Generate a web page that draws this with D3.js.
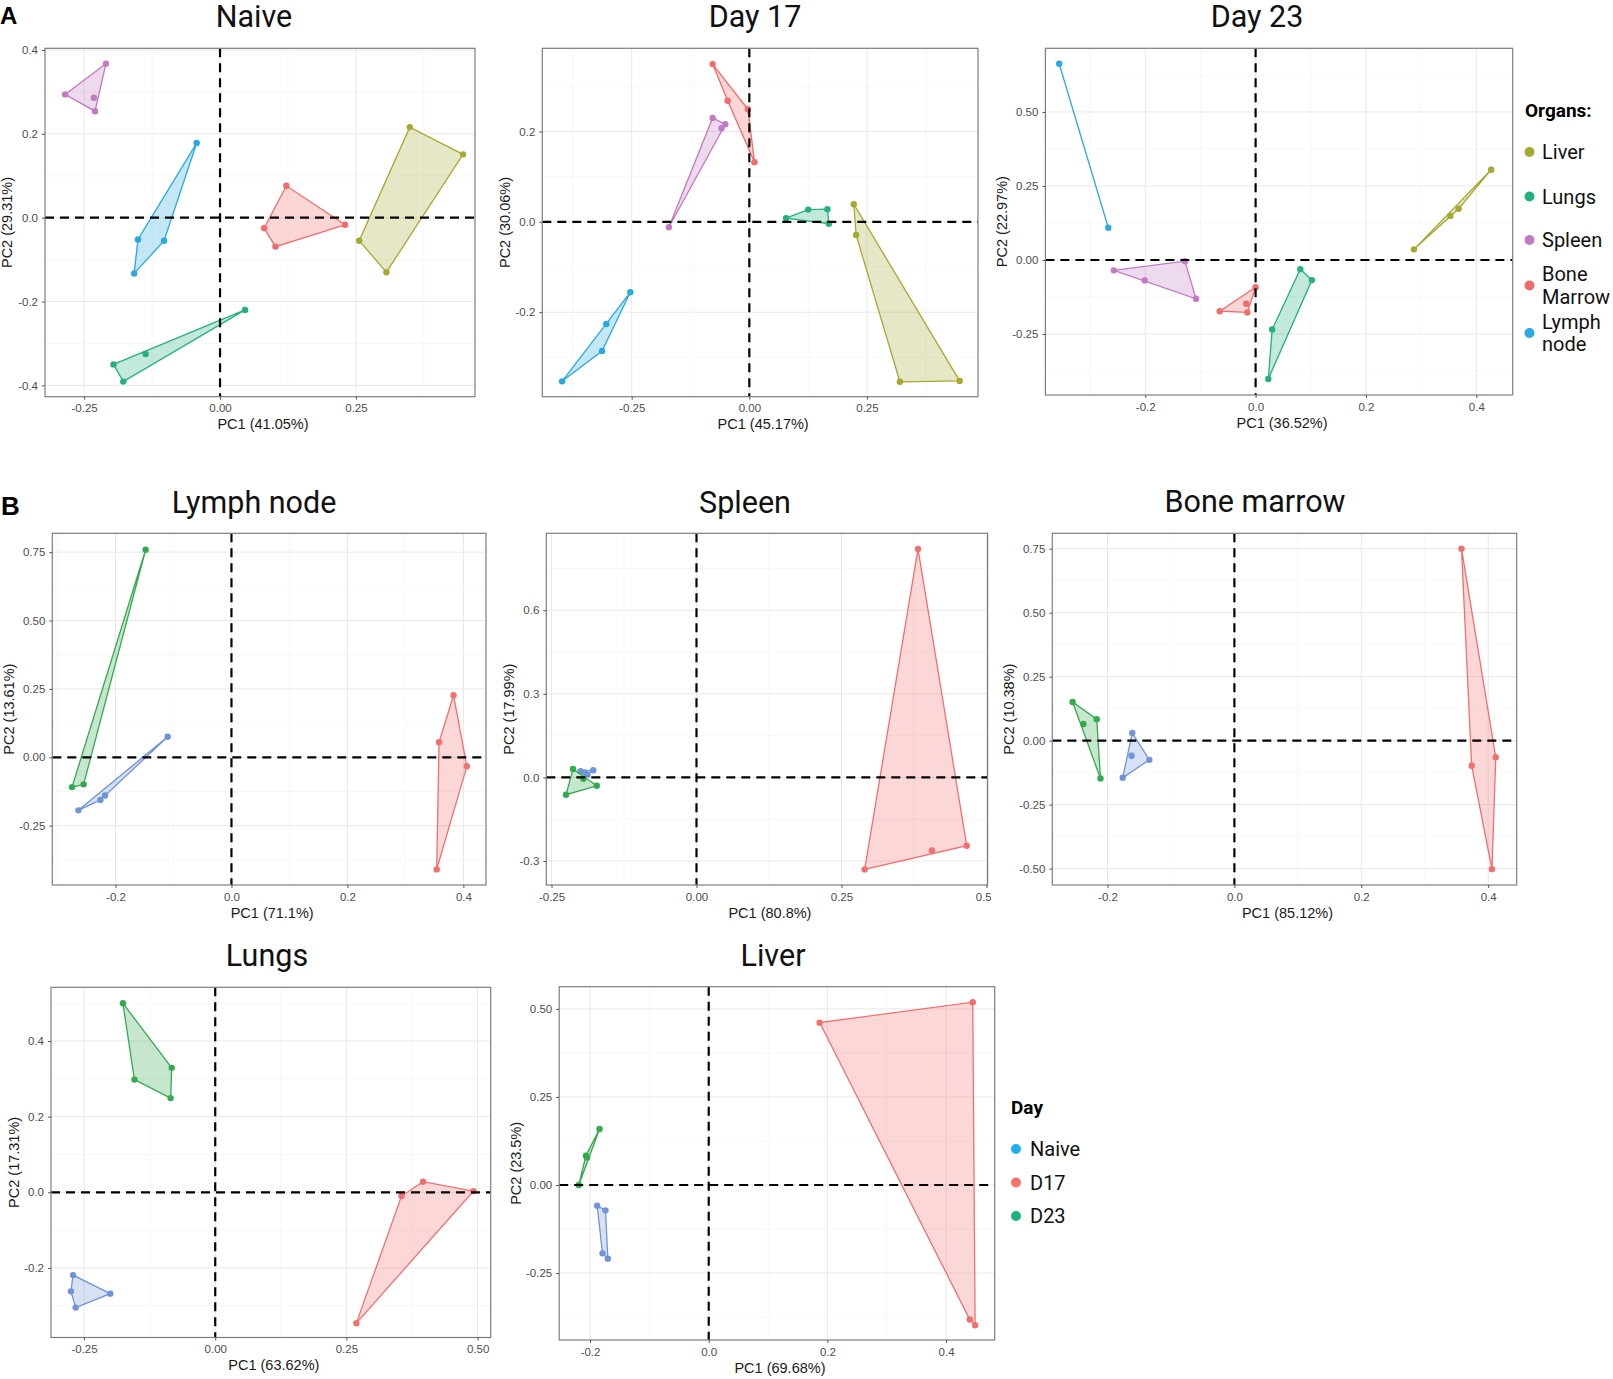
<!DOCTYPE html>
<html lang="en">
<head>
<meta charset="UTF-8">
<title>PCA par organe et par jour</title>
<style>
  body { margin: 0; background: #fff; }
  .tick text { font-family: "Liberation Sans", Arial, sans-serif; }
</style>
</head>
<body>
<script src="https://d3js.org/d3.v7.min.js"></script>
<script>

// --- categories ---
var organs = ["Liver", "Lungs", "Spleen", "Bone Marrow", "Lymph node"];
var organColors = ["#A7A832", "#25B07D", "#C27BC2", "#F06B69", "#2AA9E0"];
var days = ["Naive", "D17", "D23"];
var dayColors = ["#6F94D7", "#F07070", "#34AA4F"];       // marks in panels B
var dayLegendColors = ["#1DB1EC", "#F2736B", "#1BB379"]; // legend keys

// --- A: one panel per time point, points [PC1, PC2] by organ ---
var naiveLiver      = [[0.349, 0.216], [0.447, 0.151], [0.256, -0.055], [0.306, -0.130]];
var naiveLungs      = [[0.046, -0.220], [-0.137, -0.325], [-0.196, -0.350], [-0.178, -0.391]];
var naiveSpleen     = [[-0.285, 0.294], [-0.210, 0.367], [-0.232, 0.286], [-0.230, 0.254]];
var naiveBoneMarrow = [[0.122, 0.076], [0.230, -0.017], [0.081, -0.025], [0.102, -0.069]];
var naiveLymphNode  = [[-0.043, 0.178], [-0.151, -0.052], [-0.103, -0.055], [-0.158, -0.133]];

var d17Liver      = [[0.222, 0.039], [0.227, -0.029], [0.320, -0.354], [0.447, -0.352]];
var d17Lungs      = [[0.078, 0.008], [0.125, 0.027], [0.166, 0.028], [0.169, -0.004]];
var d17Spleen     = [[-0.078, 0.230], [-0.051, 0.216], [-0.059, 0.207], [-0.171, -0.012]];
var d17BoneMarrow = [[-0.078, 0.349], [-0.046, 0.268], [-0.003, 0.249], [0.011, 0.132]];
var d17LymphNode  = [[-0.253, -0.156], [-0.304, -0.226], [-0.313, -0.286], [-0.398, -0.353]];

var d23Liver      = [[0.427, 0.305], [0.368, 0.173], [0.353, 0.149], [0.287, 0.036]];
var d23Lungs      = [[0.081, -0.031], [0.102, -0.068], [0.030, -0.235], [0.023, -0.402]];
var d23Spleen     = [[-0.257, -0.035], [-0.128, -0.004], [-0.201, -0.069], [-0.108, -0.131]];
var d23BoneMarrow = [[-0.065, -0.173], [-0.015, -0.177], [-0.017, -0.148], [0.000, -0.092]];
var d23LymphNode  = [[-0.356, 0.663], [-0.267, 0.109]];

// --- B: one panel per organ, points by day ---
var lnNaive = [[-0.110, 0.075], [-0.264, -0.194], [-0.226, -0.156], [-0.218, -0.140]];
var lnD17   = [[0.383, 0.227], [0.358, 0.055], [0.406, -0.033], [0.354, -0.410]];
var lnD23   = [[-0.148, 0.759], [-0.275, -0.109], [-0.255, -0.099]];

var spNaive = [[-0.200, 0.022], [-0.188, 0.010], [-0.178, 0.026], [-0.192, 0.018]];
var spD17   = [[0.382, 0.820], [0.290, -0.330], [0.406, -0.262], [0.466, -0.245]];
var spD23   = [[-0.213, 0.030], [-0.225, -0.062], [-0.172, -0.030], [-0.195, -0.005]];

var bmNaive = [[-0.161, 0.030], [-0.162, -0.059], [-0.134, -0.075], [-0.176, -0.145]];
var bmD17   = [[0.358, 0.750], [0.374, -0.098], [0.412, -0.065], [0.406, -0.502]];
var bmD23   = [[-0.255, 0.151], [-0.238, 0.065], [-0.217, 0.084], [-0.211, -0.148]];

var luNaive = [[-0.271, -0.219], [-0.275, -0.262], [-0.266, -0.305], [-0.200, -0.268]];
var luD17   = [[0.396, 0.028], [0.355, -0.010], [0.492, 0.003], [0.269, -0.346]];
var luD23   = [[-0.176, 0.500], [-0.083, 0.329], [-0.154, 0.298], [-0.085, 0.249]];

var liNaive = [[-0.188, -0.059], [-0.174, -0.072], [-0.179, -0.194], [-0.170, -0.209]];
var liD17   = [[0.187, 0.461], [0.445, 0.519], [0.440, -0.382], [0.449, -0.398]];
var liD23   = [[-0.184, 0.159], [-0.207, 0.083], [-0.219, 0.000], [-0.205, 0.078]];

// --- tick values ---
var ticksQuarterA = [-0.25, 0, 0.25];
var ticksNaiveY   = [-0.4, -0.2, 0, 0.2, 0.4];
var ticksD17Y     = [-0.2, 0, 0.2];
var ticksFifth    = [-0.2, 0, 0.2, 0.4];
var ticksD23Y     = [-0.25, 0, 0.25, 0.5];
var ticksLnY      = [-0.25, 0, 0.25, 0.5, 0.75];
var ticksSpX      = [-0.25, 0, 0.25, 0.5];
var ticksSpY      = [-0.3, 0, 0.3, 0.6];
var ticksBmY      = [-0.5, -0.25, 0, 0.25, 0.5, 0.75];
var ticksLuX      = [-0.25, 0, 0.25, 0.5];
var ticksLuY      = [-0.2, 0, 0.2, 0.4];
var ticksLiY      = [-0.25, 0, 0.25, 0.5];

var W = 1613, H = 1379;
var svg = d3.select("body").append("svg").attr("width", W).attr("height", H);
var fmt = d3.formatLocale({decimal: ".", thousands: ",", grouping: [3], currency: ["", ""], minus: "-"}).format;

function byOrgan(list) {
    return list.map(function(pts, i) { return {color: organColors[i], pts: pts}; });
}
function byDay(list) {
    return list.map(function(pts, i) { return {color: dayColors[i], pts: pts}; });
}

var panels = [
    {title: "Naive", tx: 254, ty: 27, xLab: "PC1 (41.05%)", yLab: "PC2 (29.31%)",
     box: [45, 48.3, 475, 396.7], xDom: [-0.322, 0.469], yDom: [-0.427, 0.404],
     xTicks: ticksQuarterA, yTicks: ticksNaiveY, xFmt: ".2f", yFmt: ".1f",
     groups: byOrgan([naiveLiver, naiveLungs, naiveSpleen, naiveBoneMarrow, naiveLymphNode])},
    {title: "Day 17", tx: 755, ty: 27, xLab: "PC1 (45.17%)", yLab: "PC2 (30.06%)",
     box: [542.3, 48.3, 978, 396.7], xDom: [-0.44, 0.486], yDom: [-0.387, 0.384],
     xTicks: ticksQuarterA, yTicks: ticksD17Y, xFmt: ".2f", yFmt: ".1f",
     groups: byOrgan([d17Liver, d17Lungs, d17Spleen, d17BoneMarrow, d17LymphNode])},
    {title: "Day 23", tx: 1257, ty: 27, xLab: "PC1 (36.52%)", yLab: "PC2 (22.97%)",
     box: [1045.4, 48.3, 1512.7, 395], xDom: [-0.381, 0.466], yDom: [-0.456, 0.715],
     xTicks: ticksFifth, yTicks: ticksD23Y, xFmt: ".1f", yFmt: ".2f",
     groups: byOrgan([d23Liver, d23Lungs, d23Spleen, d23BoneMarrow, d23LymphNode])},
    {title: "Lymph node", tx: 254, ty: 513, xLab: "PC1 (71.1%)", yLab: "PC2 (13.61%)",
     box: [52.3, 533.3, 486, 885], xDom: [-0.309, 0.439], yDom: [-0.467, 0.819],
     xTicks: ticksFifth, yTicks: ticksLnY, xFmt: ".1f", yFmt: ".2f",
     groups: byDay([lnNaive, lnD17, lnD23])},
    {title: "Spleen", tx: 745, ty: 513, xLab: "PC1 (80.8%)", yLab: "PC2 (17.99%)",
     box: [546.3, 533.3, 987.6, 885], xDom: [-0.259, 0.502], yDom: [-0.386, 0.876],
     xTicks: ticksSpX, yTicks: ticksSpY, xFmt: ".2f", yFmt: ".1f", clipRight: 991,
     groups: byDay([spNaive, spD17, spD23])},
    {title: "Bone marrow", tx: 1255, ty: 512, xLab: "PC1 (85.12%)", yLab: "PC2 (10.38%)",
     box: [1052.3, 533.3, 1516.7, 885], xDom: [-0.287, 0.445], yDom: [-0.564, 0.810],
     xTicks: ticksFifth, yTicks: ticksBmY, xFmt: ".1f", yFmt: ".2f",
     groups: byDay([bmNaive, bmD17, bmD23])},
    {title: "Lungs", tx: 267, ty: 966, xLab: "PC1 (63.62%)", yLab: "PC2 (17.31%)",
     box: [51, 987.3, 490.7, 1337.5], xDom: [-0.313, 0.525], yDom: [-0.384, 0.542],
     xTicks: ticksLuX, yTicks: ticksLuY, xFmt: ".2f", yFmt: ".1f",
     groups: byDay([luNaive, luD17, luD23])},
    {title: "Liver", tx: 773, ty: 966, xLab: "PC1 (69.68%)", yLab: "PC2 (23.5%)",
     box: [559.2, 986.7, 994.7, 1340], xDom: [-0.252, 0.482], yDom: [-0.440, 0.563],
     xTicks: ticksFifth, yTicks: ticksLiY, xFmt: ".1f", yFmt: ".2f",
     groups: byDay([liNaive, liD17, liD23])}
];

// minor breaks halfway between majors, kept inside the domain
function minors(ticks, dom) {
    var step = ticks[1] - ticks[0], out = [];
    for (var k = -3; k < ticks.length + 2; k++) {
        var v = ticks[0] + (k + 0.5) * step;
        if (v > dom[0] && v < dom[1]) out.push(v);
    }
    return out;
}

var defs = svg.append("defs");

panels.forEach(function(p, i) {
    var L = p.box[0], T = p.box[1], R = p.box[2], B = p.box[3];
    var x = d3.scaleLinear().domain(p.xDom).range([L, R]);
    var y = d3.scaleLinear().domain(p.yDom).range([B, T]);
    var g = svg.append("g");

    defs.append("clipPath").attr("id", "panel" + i)
        .append("rect").attr("x", L).attr("y", T).attr("width", R - L).attr("height", B - T);

    // grid
    var grid = g.append("g");
    grid.selectAll(".vminor").data(minors(p.xTicks, p.xDom)).join("line")
        .attr("x1", d => x(d)).attr("x2", d => x(d)).attr("y1", T).attr("y2", B)
        .attr("stroke", "#f3f3f3").attr("stroke-width", 0.7);
    grid.selectAll(".hminor").data(minors(p.yTicks, p.yDom)).join("line")
        .attr("y1", d => y(d)).attr("y2", d => y(d)).attr("x1", L).attr("x2", R)
        .attr("stroke", "#f3f3f3").attr("stroke-width", 0.7);
    grid.selectAll(".vmajor").data(p.xTicks).join("line")
        .attr("x1", d => x(d)).attr("x2", d => x(d)).attr("y1", T).attr("y2", B)
        .attr("stroke", "#e8e8e8").attr("stroke-width", 1);
    grid.selectAll(".hmajor").data(p.yTicks).join("line")
        .attr("y1", d => y(d)).attr("y2", d => y(d)).attr("x1", L).attr("x2", R)
        .attr("stroke", "#e8e8e8").attr("stroke-width", 1);

    // hulls and points
    p.groups.forEach(function(gr) {
        var px = gr.pts.map(d => [x(d[0]), y(d[1])]);
        var hull = px.length > 2 ? d3.polygonHull(px) : px;
        g.append("path")
            .attr("d", d3.line()(hull) + (px.length > 2 ? "Z" : ""))
            .attr("fill", gr.color).attr("fill-opacity", 0.28)
            .attr("stroke", gr.color).attr("stroke-width", 1.3);
        g.selectAll(null).data(gr.pts).join("circle")
            .attr("cx", d => x(d[0])).attr("cy", d => y(d[1])).attr("r", 3.2)
            .attr("fill", gr.color);
    });

    // dashed zero lines
    var zl = g.append("g").attr("clip-path", "url(#panel" + i + ")")
        .attr("stroke", "#000").attr("stroke-width", 2.2).attr("stroke-dasharray", "9,6");
    zl.append("line").attr("x1", L).attr("x2", R).attr("y1", y(0)).attr("y2", y(0));
    zl.append("line").attr("x1", x(0)).attr("x2", x(0)).attr("y1", T).attr("y2", B);

    // border
    g.append("rect").attr("x", L).attr("y", T).attr("width", R - L).attr("height", B - T)
        .attr("fill", "none").attr("stroke", "#7d7d7d").attr("stroke-width", 1.2);

    // axes
    var ax = g.append("g").attr("transform", "translate(0," + B + ")")
        .call(d3.axisBottom(x).tickValues(p.xTicks).tickFormat(fmt(p.xFmt)).tickSize(3).tickPadding(4.5));
    var ay = g.append("g").attr("transform", "translate(" + L + ",0)")
        .call(d3.axisLeft(y).tickValues(p.yTicks).tickFormat(fmt(p.yFmt)).tickSize(3).tickPadding(4));
    [ax, ay].forEach(function(a) {
        a.select(".domain").remove();
        a.attr("font-size", 11.5).attr("font-family", "Liberation Sans, Arial, sans-serif");
        a.selectAll("line").attr("stroke", "#555");
        a.selectAll("text").attr("fill", "#4d4d4d");
    });
    if (p.clipRight) {
        defs.append("clipPath").attr("id", "axclip" + i)
            .append("rect").attr("x", 0).attr("y", 0).attr("width", p.clipRight).attr("height", H);
        ax.attr("clip-path", "url(#axclip" + i + ")");
    }

    var maxW = d3.max(ay.selectAll("text").nodes(), n => n.getBBox().width);

    g.append("text").attr("x", (L + R) / 2 + 3).attr("y", B + 32.5)
        .attr("text-anchor", "middle").attr("font-family", "Liberation Sans, Arial, sans-serif")
        .attr("font-size", 14.5).attr("fill", "#1a1a1a").text(p.xLab);
    var yx = L - 7 - maxW - 10.5, yy = (T + B) / 2;
    g.append("text").attr("transform", "translate(" + yx + "," + yy + ") rotate(-90)")
        .attr("dy", "0.35em").attr("text-anchor", "middle")
        .attr("font-family", "Liberation Sans, Arial, sans-serif")
        .attr("font-size", 14.5).attr("fill", "#1a1a1a").text(p.yLab);

    // title
    g.append("text").attr("x", p.tx).attr("y", p.ty).attr("text-anchor", "middle")
        .attr("font-family", "Roboto, sans-serif").attr("font-size", 30.5).attr("fill", "#111")
        .text(p.title);
});

// panel letters
svg.append("text").attr("x", 0).attr("y", 24).attr("font-family", "Liberation Sans, Arial, sans-serif")
    .attr("font-weight", "bold").attr("font-size", 24).text("A");
svg.append("text").attr("x", 1).attr("y", 515).attr("font-family", "Liberation Sans, Arial, sans-serif")
    .attr("font-weight", "bold").attr("font-size", 26).text("B");

// organ legend
var lg = svg.append("g").attr("font-family", "Roboto, sans-serif");
lg.append("text").attr("x", 1525).attr("y", 116.5).attr("font-size", 19).attr("font-weight", "bold")
    .text("Organs:");
var organLines = [["Liver"], ["Lungs"], ["Spleen"], ["Bone", "Marrow"], ["Lymph", "node"]];
var organKeyY = [152, 196.5, 240, 285.5, 333];
organs.forEach(function(o, i) {
    lg.append("circle").attr("cx", 1529.5).attr("cy", organKeyY[i]).attr("r", 5).attr("fill", organColors[i]);
    var lines = organLines[i];
    var y0 = organKeyY[i] + 7 - (lines.length - 1) * 11.3;
    lines.forEach(function(t, j) {
        lg.append("text").attr("x", 1542).attr("y", y0 + j * 22.6).attr("font-size", 20)
            .attr("fill", "#111").text(t);
    });
});

// day legend
var dg = svg.append("g").attr("font-family", "Roboto, sans-serif");
dg.append("text").attr("x", 1011).attr("y", 1114).attr("font-size", 19).attr("font-weight", "bold").text("Day");
days.forEach(function(d, i) {
    var cy = 1149 + i * 33.5;
    dg.append("circle").attr("cx", 1016).attr("cy", cy).attr("r", 5).attr("fill", dayLegendColors[i]);
    dg.append("text").attr("x", 1030).attr("y", cy + 7).attr("font-size", 20).attr("fill", "#111").text(d);
});

</script>
</body>
</html>
